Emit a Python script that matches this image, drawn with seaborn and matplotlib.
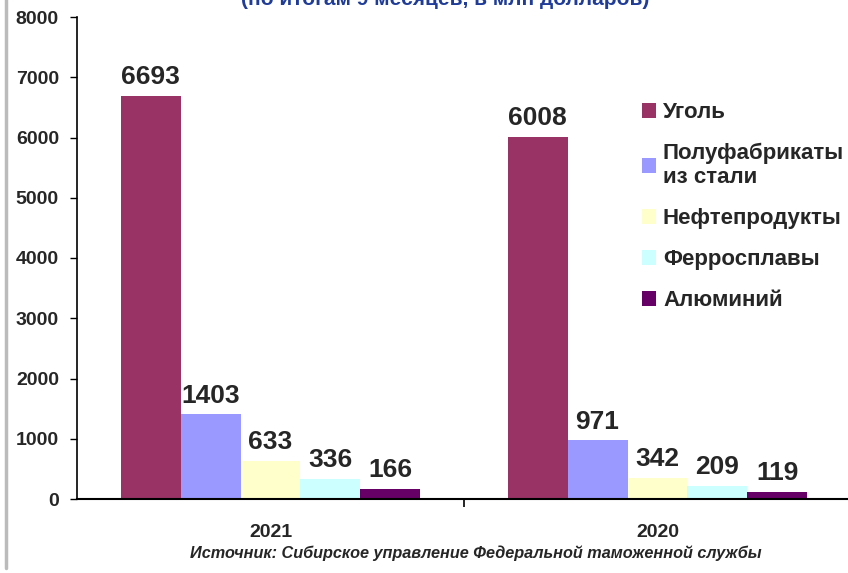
import numpy as np
import pandas as pd
import seaborn as sns
import matplotlib.pyplot as plt
from matplotlib.lines import Line2D
from matplotlib.patches import Patch

# data
years = ["2021", "2020"]
products = ["Уголь", "Полуфабрикаты\nиз стали", "Нефтепродукты", "Ферросплавы", "Алюминий"]
values_2021 = [6693, 1403, 633, 336, 166]
values_2020 = [6008, 971, 342, 209, 119]
colors = ["#993366", "#9999FF", "#FFFFCC", "#CCFFFF", "#660066"]

title = "(по итогам 9 месяцев, в млн долларов)"
source = "Источник: Сибирское управление Федеральной таможенной службы"

df = pd.DataFrame({
    "year": [y for y in years for _ in products],
    "product": products * len(years),
    "value": values_2021 + values_2020,
})

sns.set_style("white")
plt.rcParams["font.family"] = ["Liberation Sans", "DejaVu Sans"]

fig = plt.figure(figsize=(8.48, 5.73), dpi=100)
ax = fig.add_axes([77 / 848, 1 - 499 / 573, 774 / 848, (499 - 17) / 573])

sns.barplot(data=df, x="year", y="value", hue="product", order=years,
            hue_order=products, palette=colors, width=0.775, gap=0,
            saturation=1, edgecolor="none", linewidth=0, legend=False, ax=ax)

for cont in ax.containers:
    ax.bar_label(cont, fmt="%d", padding=5, fontsize=19, fontweight="bold")

ax.set_ylim(0, 8000)
ax.set_xlim(-0.5, 1.5)
ax.set_yticks(np.arange(0, 8001, 1000))
ax.set_xlabel("")
ax.set_ylabel("")
for lab in ax.get_yticklabels():
    lab.set_fontweight("bold")
for lab in ax.get_xticklabels():
    lab.set_fontweight("bold")
ax.tick_params(axis="y", direction="out", length=5, width=1, labelsize=14, pad=8, left=True, color="black")
ax.tick_params(axis="x", which="major", length=0, labelsize=14, pad=18)
ax.set_xticks([0.5], minor=True)
ax.tick_params(axis="x", which="minor", direction="out", length=6, width=1.2, color="black", bottom=True)

sns.despine(ax=ax, top=True, right=True)
ax.spines["left"].set_color("black")
ax.spines["bottom"].set_color("black")
ax.spines["left"].set_linewidth(1.2)
ax.spines["bottom"].set_linewidth(1.5)

handles = [Patch(facecolor=c, edgecolor="none") for c in colors]
fig.legend(handles, products, loc="upper left", bbox_to_anchor=(633 / 848, 1 - 93 / 573),
           frameon=False, prop={"weight": "bold", "size": 16}, handlelength=0.65,
           handleheight=0.65, handletextpad=0.3, labelspacing=0.9, borderaxespad=0)

fig.text(445 / 848, 1 - 5 / 573, title, ha="center", va="baseline", fontsize=15,
         fontweight="bold", color="#1F3C99")
fig.text(476 / 848, 1 - 553 / 573, source, ha="center", va="center", fontsize=11.7,
         fontweight="bold", fontstyle="italic")

fig.add_artist(Line2D([6 / 848, 6 / 848], [1 - 568 / 573, 1], color="#BBBBBB", linewidth=2.5))

fig.savefig("out.png", dpi=100)
